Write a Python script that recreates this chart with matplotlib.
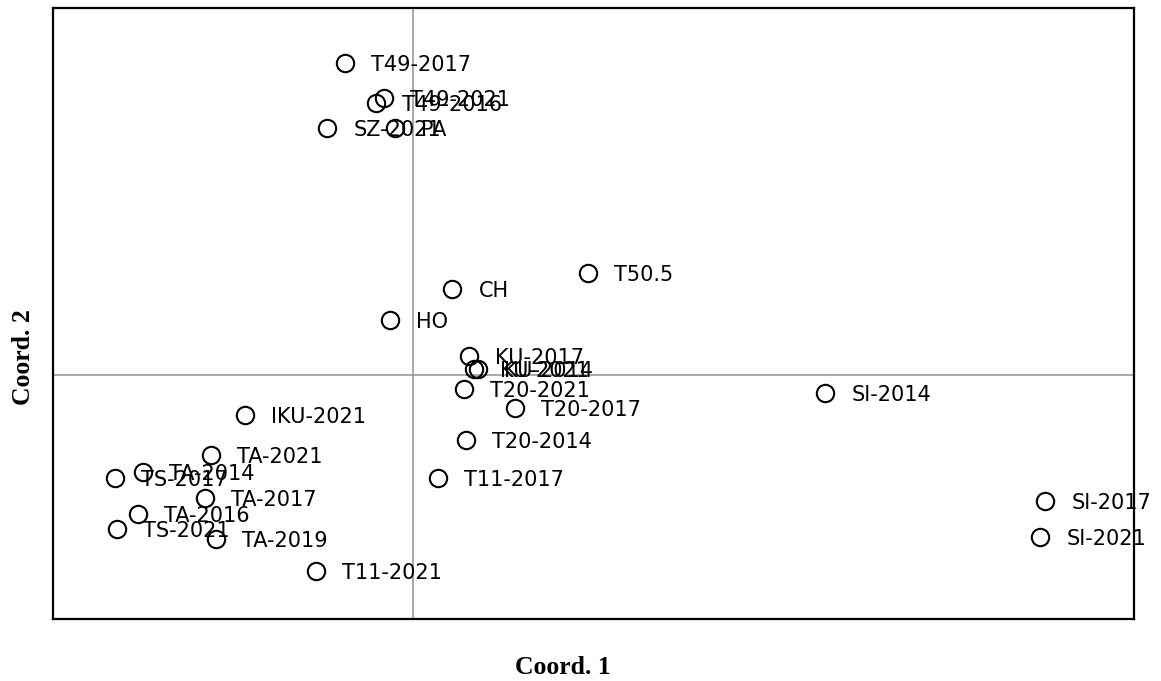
import matplotlib
matplotlib.use("Agg")
import matplotlib.pyplot as plt

# ordination scores per site
labels = [
    "T49-2017", "T49-2021", "T49-2016", "SZ-2021", "PA",
    "T50.5", "CH", "HO", "KU-2017", "KU-2021", "KU-2014",
    "T20-2021", "SI-2014", "T20-2017", "IKU-2021", "T20-2014",
    "TA-2021", "TA-2014", "TS-2017", "T11-2017", "TA-2017",
    "SI-2017", "TA-2016", "TS-2021", "TA-2019", "SI-2021", "T11-2021",
]
coord1 = [
    -0.068, -0.029, -0.037, -0.086, -0.018,
    0.175, 0.039, -0.023, 0.056, 0.061, 0.065,
    0.051, 0.412, 0.102, -0.168, 0.053,
    -0.202, -0.270, -0.298, 0.025, -0.208,
    0.632, -0.275, -0.296, -0.197, 0.627, -0.097,
]
coord2 = [
    0.312, 0.277, 0.272, 0.247, 0.247,
    0.102, 0.086, 0.055, 0.019, 0.006, 0.006,
    -0.014, -0.018, -0.033, -0.040, -0.065,
    -0.080, -0.097, -0.103, -0.103, -0.123,
    -0.126, -0.139, -0.154, -0.164, -0.162, -0.196,
]

fig = plt.figure(figsize=(11.61, 6.81), dpi=100)
ax = fig.add_axes([53 / 1161, 1 - 619 / 681, 1081 / 1161, 611 / 681])

ax.axvline(0, color="#999999", lw=1.2, zorder=1)
ax.axhline(0, color="#999999", lw=1.2, zorder=1)

ax.plot(coord1, coord2, "o", ms=12.5, mfc="none", mec="black", mew=1.5,
        zorder=3)
for lab, x, y in zip(labels, coord1, coord2):
    ax.annotate(lab, (x, y), xytext=(19, -1.2), textcoords="offset points",
                ha="left", va="center", fontsize=15, family="DejaVu Sans",
                color="black", zorder=4)

ax.set_xlim(-0.360, 0.721)
ax.set_ylim(-0.244, 0.367)
ax.set_xticks([])
ax.set_yticks([])
for sp in ax.spines.values():
    sp.set_linewidth(1.6)

fig.text(563 / 1161, 1 - 667 / 681, "Coord. 1", ha="center", va="center",
         family="Liberation Serif", fontweight="bold", fontsize=18.5)
fig.text(24 / 1161, 1 - 357 / 681, "Coord. 2", ha="center", va="center",
         rotation=90, family="Liberation Serif", fontweight="bold",
         fontsize=18.5)

fig.savefig("out.png", dpi=100)
